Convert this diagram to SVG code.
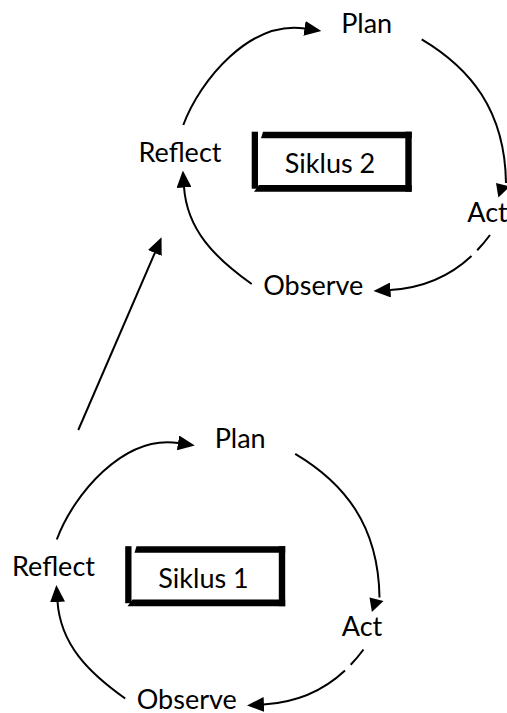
<svg xmlns="http://www.w3.org/2000/svg" width="507" height="713" viewBox="0 0 507 713">
<style>
.lbl{font-family:Lato,"Liberation Sans",sans-serif;font-size:27px;fill:#000;text-anchor:middle}
.arc{fill:none;stroke:#000;stroke-width:2}
.bar{fill:#000}
.head{fill:#000}
</style>
<defs>
<marker id="ah" viewBox="0 0 17 15" refX="0.5" refY="7.5" markerWidth="17" markerHeight="15" markerUnits="userSpaceOnUse" orient="auto">
<path d="M0,0 L17,7.5 L0,15 z" fill="#000"/>
</marker>
</defs>
<rect width="507" height="713" fill="#fff"/>

<g id="connectors">
  <g id="cycle2-connectors">
    <path class="arc" d="M183.3,125 C200,80 250,20 305,28.5" marker-end="url(#ah)"/>
    <path class="arc" d="M421.7,39.3 C470,68 505,110 506,183"/>
    <polygon class="head" points="496,183 510,186.5 498.4,197.5"/>
    <path class="arc" d="M490,235 C470,262 440,287 390,290" stroke-dasharray="20 8 400" marker-end="url(#ah)"/>
    <path class="arc" d="M251.7,284 C215,258 187,230 184,187" marker-end="url(#ah)"/>
  </g>
  <g id="cycle1-connectors" transform="translate(-126.5,414.5)">
    <path class="arc" d="M183.3,125 C200,80 250,20 305,28.5" marker-end="url(#ah)"/>
    <path class="arc" d="M421.7,39.3 C470,68 505,110 506,183"/>
    <polygon class="head" points="496,183 510,186.5 498.4,197.5"/>
    <path class="arc" d="M490,235 C470,262 440,287 390,290" stroke-dasharray="20 8 400" marker-end="url(#ah)"/>
    <path class="arc" d="M251.7,284 C215,258 187,230 184,187" marker-end="url(#ah)"/>
  </g>
  <path id="cycle1-to-cycle2" class="arc" d="M78.3,430 L155,252.5" marker-end="url(#ah)"/>
</g>

<g id="cycle2">
  <g id="plan2"><text class="lbl" x="366.7" y="33.3">Plan</text></g>
  <g id="reflect2"><text class="lbl" x="180" y="161.7">Reflect</text></g>
  <g id="act2"><text class="lbl" x="487.5" y="221.7">Act</text></g>
  <g id="observe2"><text class="lbl" x="313.3" y="295">Observe</text></g>
  <g id="siklus2">
    <rect class="bar" x="251.7" y="131.7" width="6.3" height="57"/>
    <polygon class="bar" points="263,131.7 411.7,131.7 411.7,138.3 261,138.3"/>
    <rect class="bar" x="405.3" y="131.7" width="6.4" height="60"/>
    <polygon class="bar" points="259,185 411.7,185 411.7,191.7 254,191.7"/>
    <text class="lbl" x="330" y="173.3">Siklus 2</text>
  </g>
</g>

<g id="cycle1" transform="translate(-126.5,414.5)">
  <g id="plan1"><text class="lbl" x="366.7" y="33.3">Plan</text></g>
  <g id="reflect1"><text class="lbl" x="180" y="161.7">Reflect</text></g>
  <g id="act1"><text class="lbl" x="488.5" y="221.7">Act</text></g>
  <g id="observe1"><text class="lbl" x="313.3" y="294">Observe</text></g>
  <g id="siklus1">
    <rect class="bar" x="251.7" y="131.7" width="6.3" height="57"/>
    <polygon class="bar" points="263,131.7 411.7,131.7 411.7,138.3 261,138.3"/>
    <rect class="bar" x="405.3" y="131.7" width="6.4" height="60"/>
    <polygon class="bar" points="259,185 411.7,185 411.7,191.7 254,191.7"/>
    <text class="lbl" x="330" y="173.3">Siklus 1</text>
  </g>
</g>
</svg>
